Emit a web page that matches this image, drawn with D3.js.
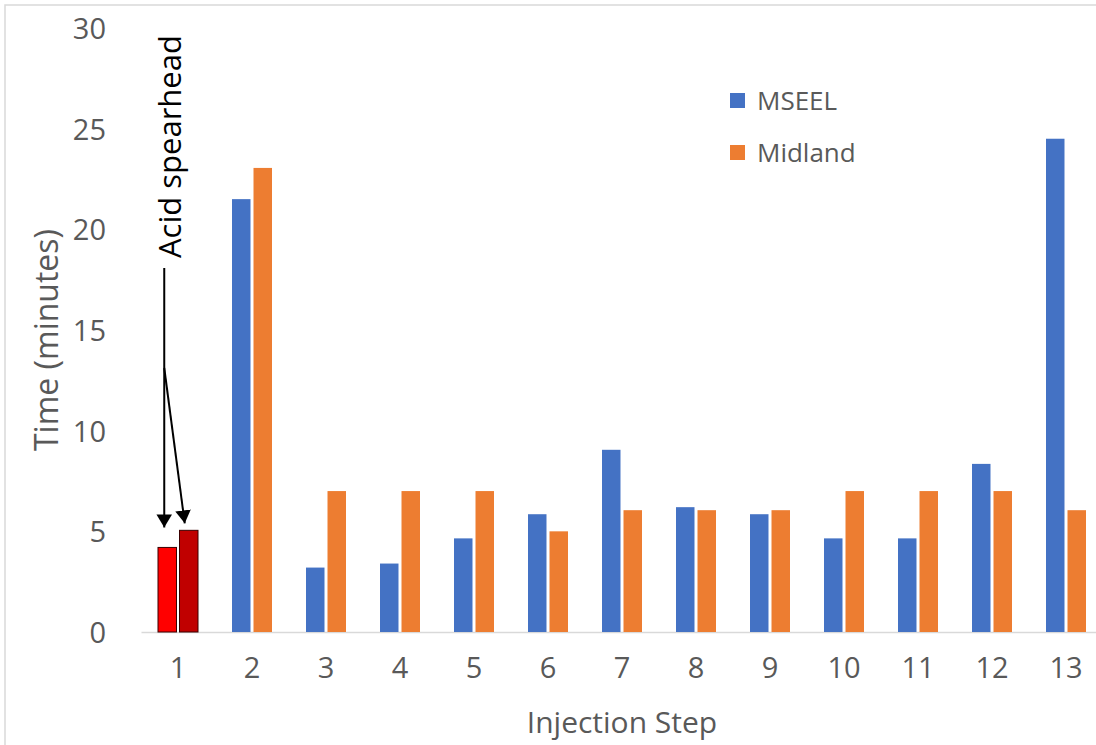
<!DOCTYPE html>
<meta charset="utf-8">
<html>
<head>
  <script src="https://d3js.org/d3.v7.min.js" charset="utf-8"></script>
  <style>
    body { margin: 0; background: #ffffff; }
    svg { display: block; }
    .axis text { font-family: 'Open Sans', sans-serif; fill: #595959; }
    .y-axis path, .y-axis line { stroke: none; }
    .x-axis path { stroke: #d9d9d9; stroke-width: 1.5; }
    .x-axis line { stroke: none; }
    .frame { fill: none; stroke: #d9d9d9; stroke-width: 1.5; }
  </style>
</head>
<body>
<script>
  // data
  var steps = ['1', '2', '3', '4', '5', '6', '7', '8', '9', '10', '11', '12', '13'];
  var series = ['MSEEL', 'Midland'];
  var mseel = [4.2, 21.5, 3.2, 3.4, 4.65, 5.85, 9.05, 6.2, 5.85, 4.65, 4.65, 8.35, 24.5];
  var midland = [5.05, 23.05, 7, 7, 7, 5, 6.05, 6.05, 6.05, 7, 7, 7, 6.05];
  var yTicks = [0, 5, 10, 15, 20, 25, 30];

  // colours: normal series + the acid spearhead step
  var colors = { MSEEL: '#4472c4', Midland: '#ed7d31' };
  var acidColors = { MSEEL: '#ff0000', Midland: '#c00000' };

  var W = 1096, H = 745;

  var svg = d3.select('body')
    .append('svg')
    .attr('width', W)
    .attr('height', H);

  // outer chart frame
  svg.append('rect')
    .attr('class', 'frame')
    .attr('x', 5).attr('y', 5)
    .attr('width', W + 20).attr('height', H + 20);

  //scales
  var x = d3.scaleBand()
    .domain(steps)
    .range([141, 1103])
    .padding(0);

  var x1 = d3.scaleBand()
    .domain(series)
    .range([17, x.bandwidth() - 17])
    .paddingInner(0.14);

  var y = d3.scaleLinear()
    .domain([0, 30])
    .range([632, 28]);

  var rows = steps.map((s, i) => ({ step: s, MSEEL: mseel[i], Midland: midland[i] }));

  //Y axis
  svg.append('g')
    .attr('class', 'axis y-axis')
    .attr('transform', 'translate(106,0)')
    .call(d3.axisLeft(y).tickValues(yTicks).tickSize(0).tickPadding(0))
    .call(g => g.selectAll('text').style('font-size', '29px').attr('dy', '0.36em'));

  //X axis
  var xg = svg.append('g')
    .attr('class', 'axis x-axis')
    .attr('transform', 'translate(0,632)')
    .call(d3.axisBottom(x).tickSize(0).tickSizeOuter(0).tickPadding(36))
    .call(g => g.selectAll('text').style('font-size', '29px').attr('dy', '0.36em'));

  // boundary ticks between categories
  xg.selectAll('.bound')
    .data(steps.concat(['end']))
    .enter()
    .append('line')
    .attr('x1', d => d === 'end' ? x.range()[1] : x(d))
    .attr('x2', d => d === 'end' ? x.range()[1] : x(d))
    .attr('y1', 0).attr('y2', 11)
    .attr('stroke', '#d9d9d9')
    .attr('stroke-width', 1.5);

  //Bars
  var groups = svg.selectAll('.grp')
    .data(rows)
    .enter()
    .append('g')
    .attr('transform', d => `translate(${x(d.step)},0)`);

  groups.selectAll('rect')
    .data(d => series.map(k => ({ key: k, value: d[k], acid: d.step === '1' })))
    .enter()
    .append('rect')
    .attr('x', d => x1(d.key))
    .attr('width', x1.bandwidth())
    .attr('y', d => y(d.value))
    .attr('height', d => y(0) - y(d.value))
    .attr('fill', d => d.acid ? acidColors[d.key] : colors[d.key])
    .attr('stroke', d => d.acid ? '#3a0000' : 'none')
    .attr('stroke-width', 1);

  //Axis titles
  svg.append('text')
    .attr('transform', 'translate(58,340) rotate(-90)')
    .attr('text-anchor', 'middle')
    .style('font-family', "'Open Sans', sans-serif")
    .style('font-size', '32px')
    .attr('fill', '#595959')
    .text('Time (minutes)');

  svg.append('text')
    .attr('x', 622).attr('y', 733)
    .attr('text-anchor', 'middle')
    .style('font-family', "'Open Sans', sans-serif")
    .style('font-size', '30px')
    .attr('fill', '#595959')
    .text('Injection Step');

  //Legend
  var legend = svg.selectAll('.leg')
    .data(series)
    .enter()
    .append('g')
    .attr('transform', (d, i) => `translate(730,${93 + i * 52})`);

  legend.append('rect')
    .attr('width', 15).attr('height', 15)
    .attr('fill', d => colors[d]);

  legend.append('text')
    .attr('x', 27).attr('y', 7.5)
    .attr('dy', '0.36em')
    .style('font-family', "'Open Sans', sans-serif")
    .style('font-size', '26px')
    .attr('fill', '#595959')
    .text(d => d);

  //Acid spearhead annotation
  svg.append('defs').append('marker')
    .attr('id', 'head')
    .attr('viewBox', '0 0 10 12')
    .attr('refX', 10).attr('refY', 6)
    .attr('markerWidth', 13).attr('markerHeight', 15.6)
    .attr('markerUnits', 'userSpaceOnUse')
    .attr('orient', 'auto')
    .append('path')
    .attr('d', 'M0,0 L10,6 L0,12 Z')
    .attr('fill', '#000');

  var ax = x('1') + x1('MSEEL') + x1.bandwidth() / 2;
  var bx = x('1') + x1('Midland') + x1.bandwidth() / 2;

  svg.append('text')
    .attr('transform', `translate(${ax + 14},258) rotate(-90)`)
    .attr('text-anchor', 'start')
    .style('font-family', "'Open Sans', sans-serif")
    .style('font-size', '31px')
    .attr('fill', '#000')
    .text('Acid spearhead');

  svg.append('line')
    .attr('x1', ax - 3).attr('y1', 268)
    .attr('x2', ax - 3).attr('y2', y(mseel[0]) - 20)
    .attr('stroke', '#000').attr('stroke-width', 2)
    .attr('marker-end', 'url(#head)');

  svg.append('line')
    .attr('x1', ax - 3).attr('y1', 368)
    .attr('x2', bx - 4).attr('y2', y(midland[0]) - 7)
    .attr('stroke', '#000').attr('stroke-width', 2)
    .attr('marker-end', 'url(#head)');
</script>
</body>
</html>
